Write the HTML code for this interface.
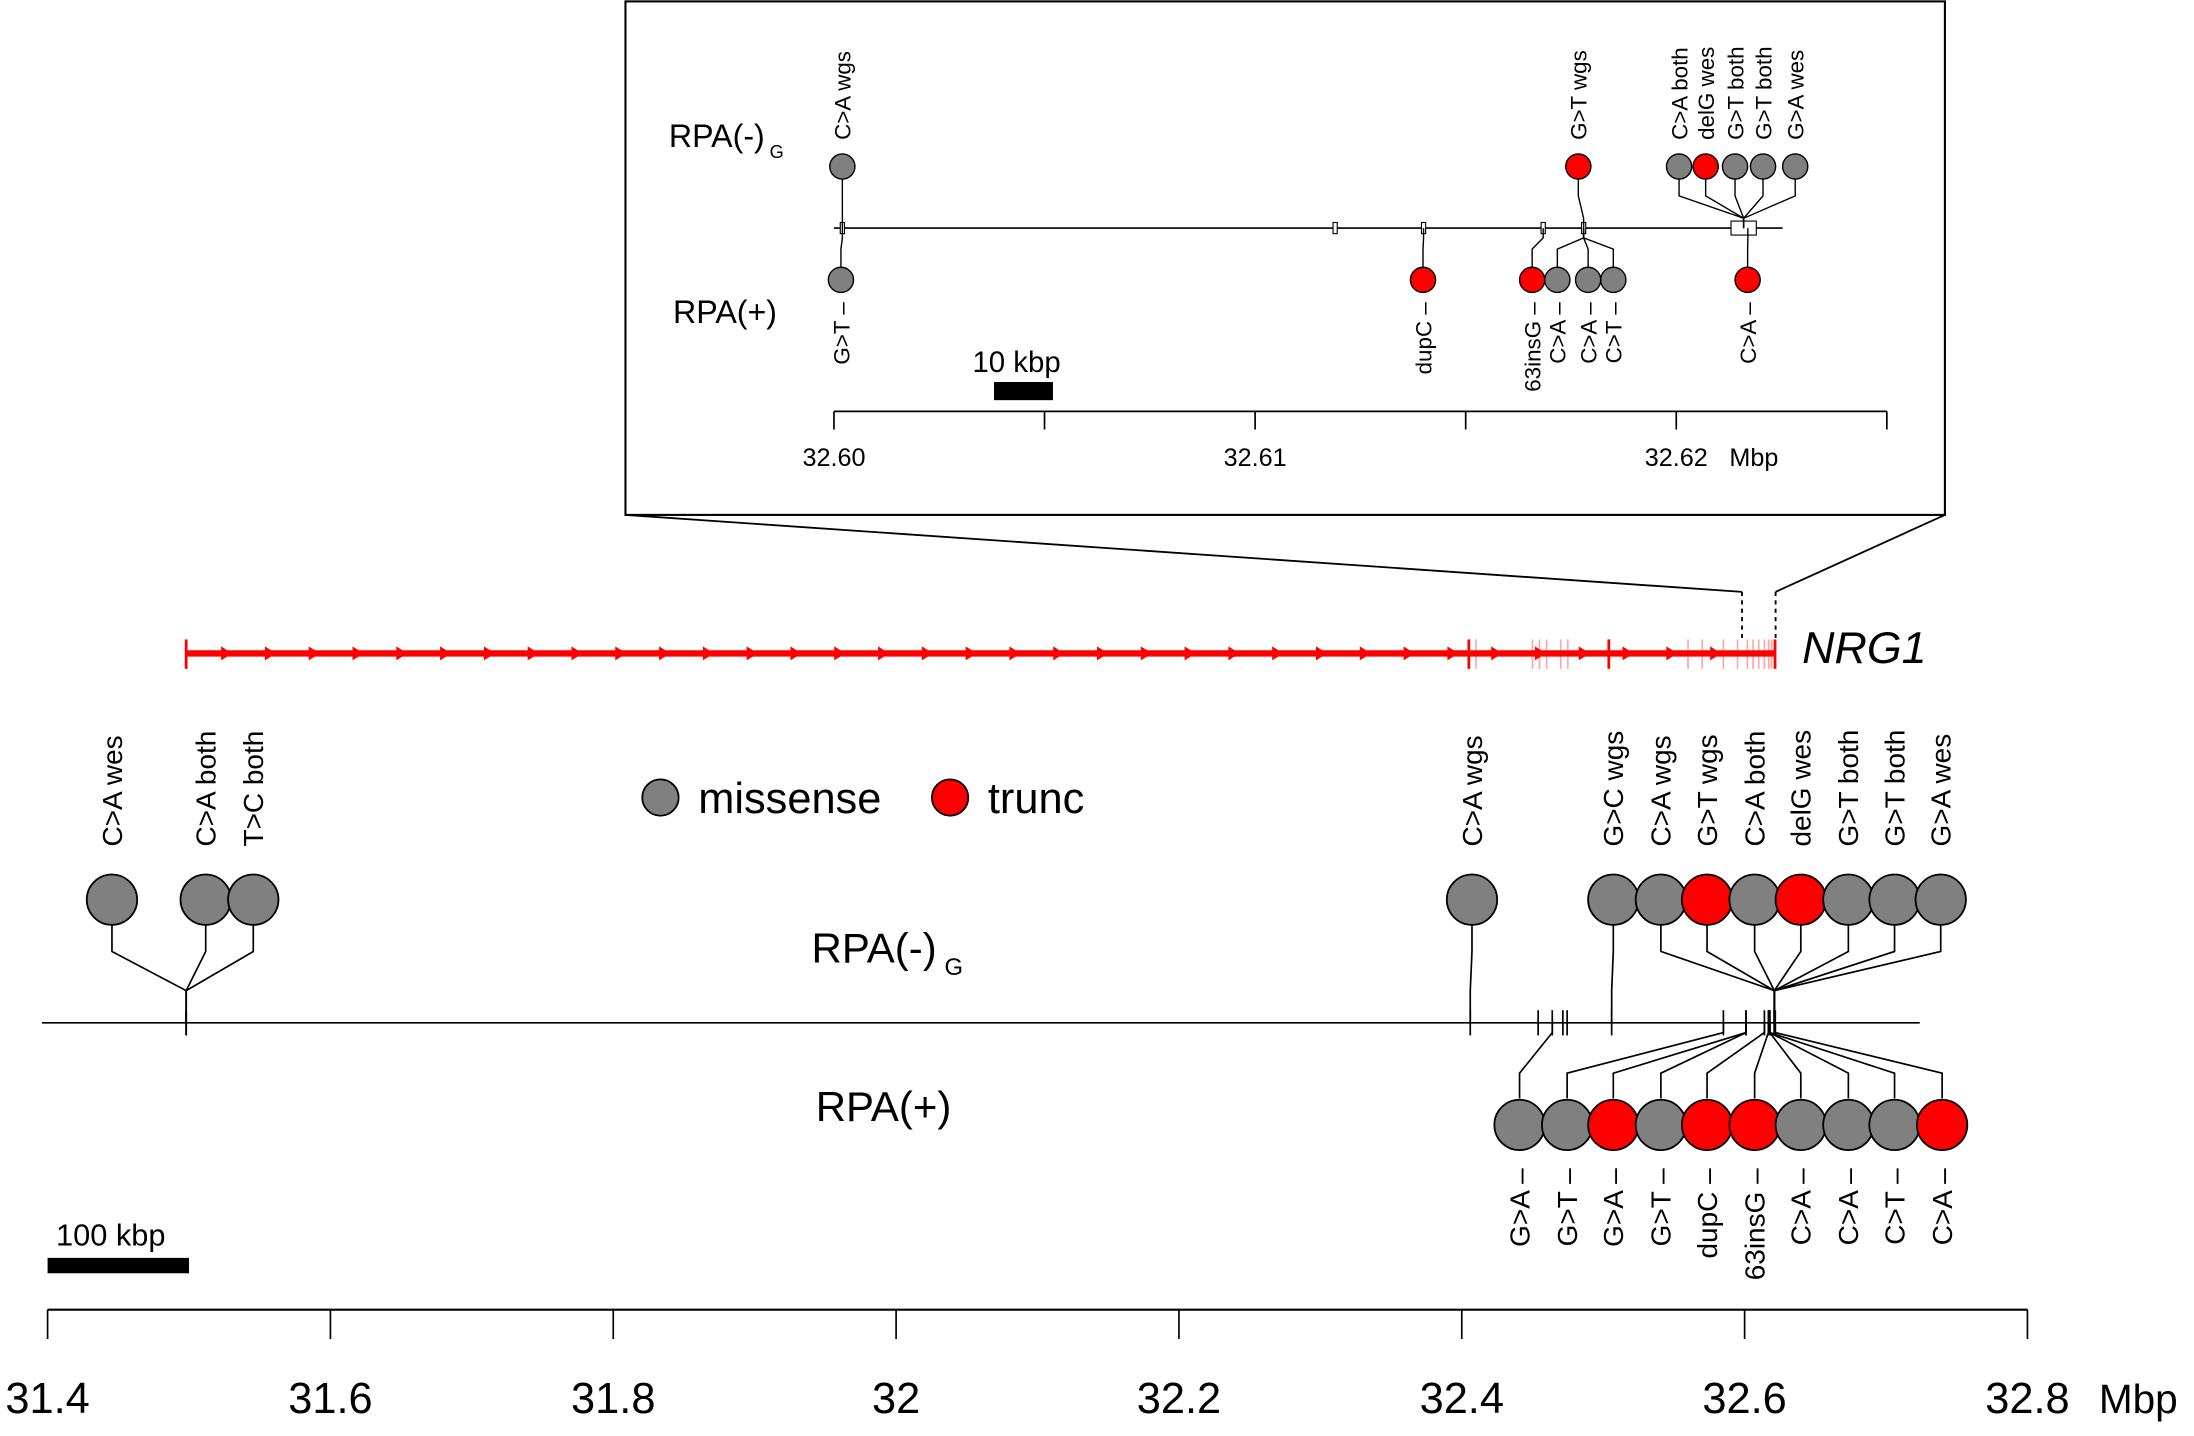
<!DOCTYPE html>
<html><head><meta charset="utf-8"><style>
html,body{margin:0;padding:0;background:#fff;}
svg{display:block;font-family:"Liberation Sans",sans-serif;}
</style></head><body>
<svg id="chart" width="2194" height="1436" viewBox="0 0 1568 1026.3" xmlns="http://www.w3.org/2000/svg">
<g id="g"></g>
</svg>
<script>
// ---- main panel data (Mbp) ----
const mainTicks = [31.4, 31.6, 31.8, 32, 32.2, 32.4, 32.6, 32.8];
const mainTickLabels = ["31.4", "31.6", "31.8", "32", "32.2", "32.4", "32.6", "32.8"];
const topLabels = ["C>A wes","C>A both","T>C both","C>A wgs","G>C wgs","C>A wgs","G>T wgs","C>A both","delG wes","G>T both","G>T both","G>A wes"];
const topTypes = ["m","m","m","m","m","m","t","m","t","m","m","m"];
const topPos = [31.498,31.498,31.498,32.406,32.506,32.621,32.621,32.621,32.621,32.621,32.621,32.621];
const topSlots = [80,147,181,1052,1153,1187,1220,1254,1287,1321,1354,1387]; // layout only
const botLabels = ["G>A \u2013","G>T \u2013","G>A \u2013","G>T \u2013","dupC \u2013","63insG \u2013","C>A \u2013","C>A \u2013","C>T \u2013","C>A \u2013"];
const botTypes = ["m","m","t","m","t","t","m","m","m","t"];
const botPos = [32.464,32.585,32.601,32.601,32.614,32.6168,32.6178,32.6178,32.6178,32.6217];
const botSlots = [1086,1120,1153,1187,1220,1254,1287,1321,1354,1388]; // layout only
const extraTickPos = [32.454,32.4715,32.4745];
const geneStart = 31.498, geneEnd = 32.6215;
const exonPos = [32.405,32.41,32.45,32.455,32.46,32.47,32.475,32.56,32.57,32.585,32.595,32.602,32.606,32.610,32.614,32.617,32.619];
const majorExonPos = [32.405,32.504];
// ---- inset data (Mbp) ----
const inTicks = [32.60,32.605,32.61,32.615,32.62,32.625];
const inTickLabels = ["32.60","","32.61","","32.62",""];
const inTopLabels = ["C>A wgs","G>T wgs","C>A both","delG wes","G>T both","G>T both","G>A wes"];
const inTopTypes = ["m","t","m","t","m","m","m"];
const inTopPos = [32.6002,32.6178,32.6216,32.6216,32.6216,32.6216,32.6216];
const inTopSlots = [602,1128,1200,1219,1240,1260,1283];
const inBotLabels = ["G>T \u2013","dupC \u2013","63insG \u2013","C>A \u2013","C>A \u2013","C>T \u2013","C>A \u2013"];
const inBotTypes = ["m","t","t","m","m","m","t"];
const inBotPos = [32.6002,32.6140,32.61684,32.6178,32.6178,32.6178,32.6217];
const inBotSlots = [601,1017,1095,1113,1135,1153,1249];
const inExonPos = [32.6002,32.6119,32.6140,32.61684,32.6178];

const NS="http://www.w3.org/2000/svg";
const G=document.getElementById('g');
function el(tag,attrs,parent){const e=document.createElementNS(NS,tag);for(const k in attrs)e.setAttribute(k,attrs[k]);(parent||G).appendChild(e);return e;}
function txt(s,attrs,parent){const e=el('text',attrs,parent);e.textContent=s;return e;}
const X=v=>34+(v-31.4)*1010.7;
const XI=v=>596+(v-32.60)*30100;
const fill=t=>t==="t"?"#ff0000":"#808080";

// main axis
let e=el('line',{x1:X(31.4),x2:X(32.8),y1:936,y2:936,stroke:'#000','stroke-width':1.5});

mainTicks.forEach((v,i)=>{
  let t=el('line',{x1:X(v),x2:X(v),y1:936,y2:957,stroke:'#000','stroke-width':1.2});
  
  let l=txt(mainTickLabels[i],{x:X(v),y:1010,'font-size':31,'text-anchor':'middle'});
  
});
e=txt('Mbp',{x:1500,y:1010,'font-size':29});

// scale bar
e=el('rect',{x:X(31.4),y:899,width:X(31.5)-X(31.4),height:11,fill:'#000'});

e=txt('100 kbp',{x:40,y:890,'font-size':22});


// main track
e=el('line',{x1:30,x2:1372,y1:731,y2:731,stroke:'#000','stroke-width':1.2});

topPos.concat(botPos,extraTickPos).forEach(v=>{
  let t=el('line',{x1:X(v),x2:X(v),y1:722,y2:740,stroke:'#000','stroke-width':1.2});
  
});
// top lollipops
topPos.forEach((v,i)=>{
  const cx=topSlots[i],gx=X(v);
  let p=el('polyline',{points:`${cx},661 ${cx},680 ${gx},708 ${gx},731`,fill:'none',stroke:'#000','stroke-width':1.2});
  
  let c=el('circle',{cx:cx,cy:643,r:18,fill:fill(topTypes[i]),stroke:'#000','stroke-width':1.3});
  
  let l=txt(topLabels[i],{x:cx+7,y:605,'font-size':20,transform:`rotate(-90 ${cx+7} 605)`});
  
});
// bottom lollipops
botPos.forEach((v,i)=>{
  const cx=botSlots[i],gx=X(v);
  let p=el('polyline',{points:`${cx},785 ${cx},767 ${gx},738 ${gx},731`,fill:'none',stroke:'#000','stroke-width':1.2});
  
  let c=el('circle',{cx:cx,cy:804,r:18,fill:fill(botTypes[i]),stroke:'#000','stroke-width':1.3});
  
  let l=txt(botLabels[i],{x:cx+7,y:835,'font-size':20,'text-anchor':'end',transform:`rotate(-90 ${cx+7} 835)`});
  
});
// row labels
e=txt('RPA(-)',{x:580,y:688,'font-size':30});

e=txt('G',{x:675,y:697,'font-size':17});

e=txt('RPA(+)',{x:583,y:801,'font-size':30});

// legend
e=el('circle',{cx:472,cy:570,r:13,fill:'#808080',stroke:'#000','stroke-width':1.3});

e=txt('missense',{x:499,y:581,'font-size':31});

e=el('circle',{cx:679,cy:570,r:13,fill:'#ff0000',stroke:'#000','stroke-width':1.3});

e=txt('trunc',{x:706,y:581,'font-size':31});


// gene track
exonPos.forEach(v=>{
  let t=el('line',{x1:X(v),x2:X(v),y1:457,y2:478,stroke:'#ff0000','stroke-opacity':0.35,'stroke-width':1.2});
  
});
e=el('line',{x1:X(geneStart),x2:X(geneEnd),y1:467,y2:467,stroke:'#ff0000','stroke-width':4.5});

[geneStart,geneEnd].concat(majorExonPos).forEach(v=>{
  let t=el('line',{x1:X(v),x2:X(v),y1:457,y2:478,stroke:'#ff0000','stroke-width':2});
  
});
for(let ax=163; ax<1240; ax+=31.3){
  let a=el('polygon',{points:`${ax-5},462 ${ax+3},467 ${ax-5},472`,fill:'#ff0000'});
  
}
e=txt('NRG1',{x:1288,y:474,'font-size':32,'font-style':'italic'});

// zoom lines
e=el('polyline',{points:`447,368 1245,423`,fill:'none',stroke:'#000','stroke-width':1.3});

e=el('polyline',{points:`1390,368 1269,423`,fill:'none',stroke:'#000','stroke-width':1.3});

[1245,1269].forEach(x=>{
  let d=el('line',{x1:x,x2:x,y1:423,y2:458,stroke:'#000','stroke-width':1.3,'stroke-dasharray':'3,3'});
  
});

// ---- inset ----
e=el('rect',{x:447,y:1,width:943,height:367,fill:'#fff',stroke:'#000','stroke-width':1.5});

e=el('line',{x1:XI(32.60),x2:XI(32.625),y1:294,y2:294,stroke:'#000','stroke-width':1.3});

inTicks.forEach((v,i)=>{
  let t=el('line',{x1:XI(v),x2:XI(v),y1:294,y2:307,stroke:'#000','stroke-width':1.2});
  
  if(inTickLabels[i]){let l=txt(inTickLabels[i],{x:XI(v),y:333,'font-size':18,'text-anchor':'middle'});
  }
});
e=txt('Mbp',{x:1236,y:333,'font-size':18});

e=el('rect',{x:XI(32.6038),y:273,width:XI(32.6052)-XI(32.6038),height:13,fill:'#000'});

e=txt('10 kbp',{x:695,y:266,'font-size':21});

e=el('line',{x1:596,x2:1274,y1:163,y2:163,stroke:'#000','stroke-width':1.2});

inExonPos.forEach(v=>{
  let r=el('rect',{x:XI(v)-1.5,y:159,width:3,height:8,fill:'#fff',stroke:'#000','stroke-width':0.8});
  
});
e=el('rect',{x:XI(32.6213),y:158,width:XI(32.6219)-XI(32.6213),height:10,fill:'#fff',stroke:'#000','stroke-width':0.8});

inTopPos.forEach((v,i)=>{
  const cx=inTopSlots[i],gx=XI(v);
  let p=el('polyline',{points:`${cx},128 ${cx},140 ${gx},156 ${gx},163`,fill:'none',stroke:'#000','stroke-width':1});
  
  let c=el('circle',{cx:cx,cy:119,r:9,fill:fill(inTopTypes[i]),stroke:'#000','stroke-width':1});
  
  let l=txt(inTopLabels[i],{x:cx+6,y:100,'font-size':16,transform:`rotate(-90 ${cx+6} 100)`});
  
});
inBotPos.forEach((v,i)=>{
  const cx=inBotSlots[i],gx=XI(v);
  let p=el('polyline',{points:`${cx},191 ${cx},178 ${gx},170 ${gx},163`,fill:'none',stroke:'#000','stroke-width':1});
  
  let c=el('circle',{cx:cx,cy:200,r:9,fill:fill(inBotTypes[i]),stroke:'#000','stroke-width':1});
  
  let l=txt(inBotLabels[i],{x:cx+6,y:216,'font-size':16,'text-anchor':'end',transform:`rotate(-90 ${cx+6} 216)`});
  
});
e=txt('RPA(-)',{x:478,y:105,'font-size':23});

e=txt('G',{x:550,y:113,'font-size':13});

e=txt('RPA(+)',{x:481,y:231,'font-size':23});

</script>
</body></html>
